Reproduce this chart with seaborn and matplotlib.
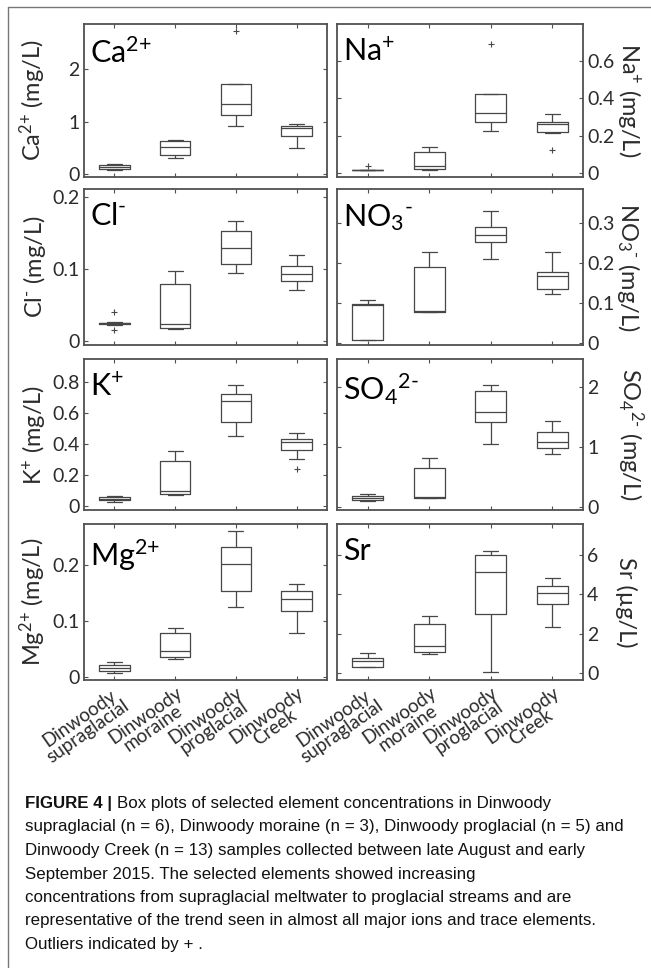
import numpy as np
import pandas as pd
import seaborn as sns
import matplotlib.pyplot as plt
from matplotlib import font_manager
from matplotlib.lines import Line2D

# sites along the x axis
sites = ["Dinwoody\nsupraglacial", "Dinwoody\nmoraine", "Dinwoody\nproglacial", "Dinwoody\nCreek"]

# box summaries per site: [whisker low, q1, median, q3, whisker high]
ca = [[0.07, 0.09, 0.13, 0.17, 0.20], [0.30, 0.36, 0.52, 0.62, 0.65],
      [0.92, 1.13, 1.33, 1.71, 1.71], [0.50, 0.73, 0.88, 0.92, 0.96]]
ca_out = [[], [], [2.73], []]

na = [[0.015, 0.016, 0.017, 0.018, 0.019], [0.016, 0.021, 0.039, 0.116, 0.142],
      [0.226, 0.272, 0.324, 0.421, 0.421], [0.213, 0.219, 0.261, 0.272, 0.316]]
na_out = [[0.040], [], [0.688], [0.124]]

cl = [[0.023, 0.024, 0.025, 0.026, 0.027], [0.0175, 0.019, 0.024, 0.079, 0.098],
      [0.0945, 0.107, 0.129, 0.153, 0.167], [0.071, 0.084, 0.093, 0.105, 0.119]]
cl_out = [[0.016, 0.041], [], [], []]

no3 = [[0.006, 0.006, 0.093, 0.096, 0.107], [0.076, 0.076, 0.079, 0.188, 0.226],
       [0.209, 0.2525, 0.269, 0.289, 0.330], [0.121, 0.135, 0.167, 0.176, 0.226]]
no3_out = [[], [], [], []]

k = [[0.024, 0.039, 0.047, 0.056, 0.062], [0.073, 0.077, 0.099, 0.292, 0.357],
     [0.454, 0.544, 0.677, 0.720, 0.780], [0.301, 0.361, 0.413, 0.432, 0.469]]
k_out = [[], [], [], [0.237]]

so4 = [[0.106, 0.122, 0.161, 0.194, 0.217], [0.150, 0.161, 0.172, 0.661, 0.822],
       [1.05, 1.422, 1.583, 1.94, 2.03], [0.883, 0.983, 1.083, 1.261, 1.444]]
so4_out = [[], [], [], []]

mg = [[0.0086, 0.0116, 0.0175, 0.0217, 0.0276], [0.0335, 0.0371, 0.0478, 0.0788, 0.088],
      [0.125, 0.1548, 0.2029, 0.2326, 0.262], [0.079, 0.1185, 0.140, 0.155, 0.1667]]
mg_out = [[], [], [], []]

sr = [[0.306, 0.306, 0.597, 0.765, 0.99], [0.94, 1.04, 1.36, 2.48, 2.88],
      [0.02, 2.98, 5.15, 5.99, 6.21], [2.32, 3.50, 4.05, 4.44, 4.85]]
sr_out = [[], [], [], []]

caption_lines = [
    "supraglacial (n = 6), Dinwoody moraine (n = 3), Dinwoody proglacial (n = 5) and",
    "Dinwoody Creek (n = 13) samples collected between late August and early",
    "September 2015. The selected elements showed increasing",
    "concentrations from supraglacial meltwater to proglacial streams and are",
    "representative of the trend seen in almost all major ions and trace elements.",
    "Outliers indicated by + .",
]


def to_samples(stats, outliers):
    '''9 values whose quartiles / whiskers reproduce the read summary'''
    lo, q1, med, q3, hi = stats
    low = [o for o in outliers if o < q1]
    high = [o for o in outliers if o > q3]
    lower = low + [lo, q1] if low else [lo, q1, q1]
    upper = [q3, hi] + high if high else [q3, q3, hi]
    return lower + [med, med, med] + upper


def make_df(stats, outs):
    rows = []
    for site, st, out in zip(sites, stats, outs):
        for v in to_samples(st, out):
            rows.append((site, v))
    return pd.DataFrame(rows, columns=["site", "value"])


sns.set_theme(style="white")
plt.rcParams["font.family"] = ["Lato", "DejaVu Sans"]
plt.rcParams["mathtext.fontset"] = "custom"
plt.rcParams["mathtext.rm"] = "Lato"
plt.rcParams["mathtext.it"] = "Lato:italic"
plt.rcParams["mathtext.bf"] = "Lato:bold"

W, H = 651, 968
fig = plt.figure(figsize=(W / 100, H / 100), dpi=100)
fig.patch.set_facecolor("white")

# (stats, outliers, title, ylabel, ylim, yticks, yticklabels, column, row)
panels = [
    (ca, ca_out, r"Ca$^{\text{2+}}$", r"Ca$^{\text{2+}}$ (mg/L)", (-0.057, 2.857), [0, 1, 2], ["0", "1", "2"], 0, 0),
    (na, na_out, r"Na$^{\text{+}}$", r"Na$^{\text{+}}$ (mg/L)", (-0.02, 0.796), [0, 0.2, 0.4, 0.6], ["0", "0.2", "0.4", "0.6"], 1, 0),
    (cl, cl_out, r"Cl$^{\text{-}}$", r"Cl$^{\text{-}}$ (mg/L)", (-0.005, 0.211), [0, 0.1, 0.2], ["0", "0.1", "0.2"], 0, 1),
    (no3, no3_out, r"NO$_{\text{3}}$$^{\text{-}}$", r"NO$_{\text{3}}$$^{\text{-}}$ (mg/L)", (-0.006, 0.384), [0, 0.1, 0.2, 0.3], ["0", "0.1", "0.2", "0.3"], 1, 1),
    (k, k_out, r"K$^{\text{+}}$", r"K$^{\text{+}}$ (mg/L)", (-0.026, 0.948), [0, 0.2, 0.4, 0.6, 0.8], ["0", "0.2", "0.4", "0.6", "0.8"], 0, 2),
    (so4, so4_out, r"SO$_{\text{4}}$$^{\text{2-}}$", r"SO$_{\text{4}}$$^{\text{2-}}$ (mg/L)", (-0.045, 2.47), [0, 1, 2], ["0", "1", "2"], 1, 2),
    (mg, mg_out, r"Mg$^{\text{2+}}$", r"Mg$^{\text{2+}}$ (mg/L)", (-0.0045, 0.274), [0, 0.1, 0.2], ["0", "0.1", "0.2"], 0, 3),
    (sr, sr_out, "Sr", "Sr (\u00b5g/L)", (-0.37, 7.59), [0, 2, 4, 6], ["0", "2", "4", "6"], 1, 3),
]

col_x = [(84, 327), (337, 583)]
row_y = [(24, 177), (189, 345), (359, 510), (524, 680)]
spine_col = "#505050"
line_col = "#474747"

for stats, outs, title, ylab, ylim, yt, ytl, c, r in panels:
    x0, x1 = col_x[c]
    y0, y1 = row_y[r]
    ax = fig.add_axes([x0 / W, 1 - y1 / H, (x1 - x0) / W, (y1 - y0) / H])
    df = make_df(stats, outs)
    sns.boxplot(data=df, x="site", y="value", order=sites, ax=ax, fill=False,
                color=line_col, width=0.5, linewidth=0.9, whis=1.5, fliersize=5,
                flierprops=dict(marker="+", markeredgewidth=0.8, markeredgecolor=line_col))
    ax.set_xlim(-0.5, 3.5)
    ax.set_ylim(*ylim)
    ax.set_yticks(yt)
    ax.set_yticklabels(ytl)
    ax.set_xlabel("")
    for sp in ax.spines.values():
        sp.set_visible(True)
        sp.set_color(spine_col)
        sp.set_linewidth(1.3)
    ax.tick_params(axis="both", direction="in", length=3, width=0.8, color=spine_col,
                   top=True, bottom=True, left=True, right=True,
                   labelsize=14, labelcolor="#2b2b2b", pad=3)
    if r == 3:
        ax.set_xticklabels(sites, rotation=35, ha="right", va="top",
                           rotation_mode="anchor", multialignment="center", fontsize=13.5,
                           color="#2b2b2b", linespacing=0.85)
    else:
        ax.tick_params(axis="x", labelbottom=False)
    if c == 0:
        ax.tick_params(axis="y", labelleft=True, labelright=False)
        ax.set_ylabel(ylab, fontsize=17, color="#2b2b2b")
        ax.yaxis.set_label_coords(-0.15, 0.5)
    else:
        ax.tick_params(axis="y", labelleft=False, labelright=True)
        ax.yaxis.set_label_position("right")
        ax.set_ylabel(ylab, fontsize=17, color="#2b2b2b", rotation=270, va="bottom")
        ax.yaxis.set_label_coords(1.13, 0.5)
    ax.text(0.025, 1 - 13 / (y1 - y0), title, transform=ax.transAxes,
            ha="left", va="top", fontsize=22, color="black")

# frame lines around the figure block
fig.add_artist(Line2D([8 / W, 1], [1 - 6.5 / H] * 2, transform=fig.transFigure,
                      color="#777777", lw=1.0))
fig.add_artist(Line2D([8 / W] * 2, [0, 1 - 6.5 / H], transform=fig.transFigure,
                      color="#777777", lw=1.0))

# caption
names = {f.name for f in font_manager.fontManager.ttflist}
if "Liberation Sans Narrow" in names:
    cap_family, cap_size = "Liberation Sans Narrow", 11.8
else:
    cap_family, cap_size = "Liberation Sans", 12.2

renderer = fig.canvas.get_renderer()
base_first = 808
t_bold = fig.text(25 / W, 1 - base_first / H, "FIGURE 4 | ", family=cap_family,
                  fontsize=cap_size, weight="bold", va="baseline", ha="left", color="#111111")
bb = t_bold.get_window_extent(renderer=renderer)
fig.text(bb.x1 / W, 1 - base_first / H, "Box plots of selected element concentrations in Dinwoody",
         family=cap_family, fontsize=cap_size, va="baseline", ha="left", color="#111111")
line_base = [831.5, 855, 878.5, 902, 925.5, 949]
for txt, yy in zip(caption_lines, line_base):
    fig.text(25 / W, 1 - yy / H, txt, family=cap_family, fontsize=cap_size,
             va="baseline", ha="left", color="#111111")

plt.savefig("out.png", dpi=100)
